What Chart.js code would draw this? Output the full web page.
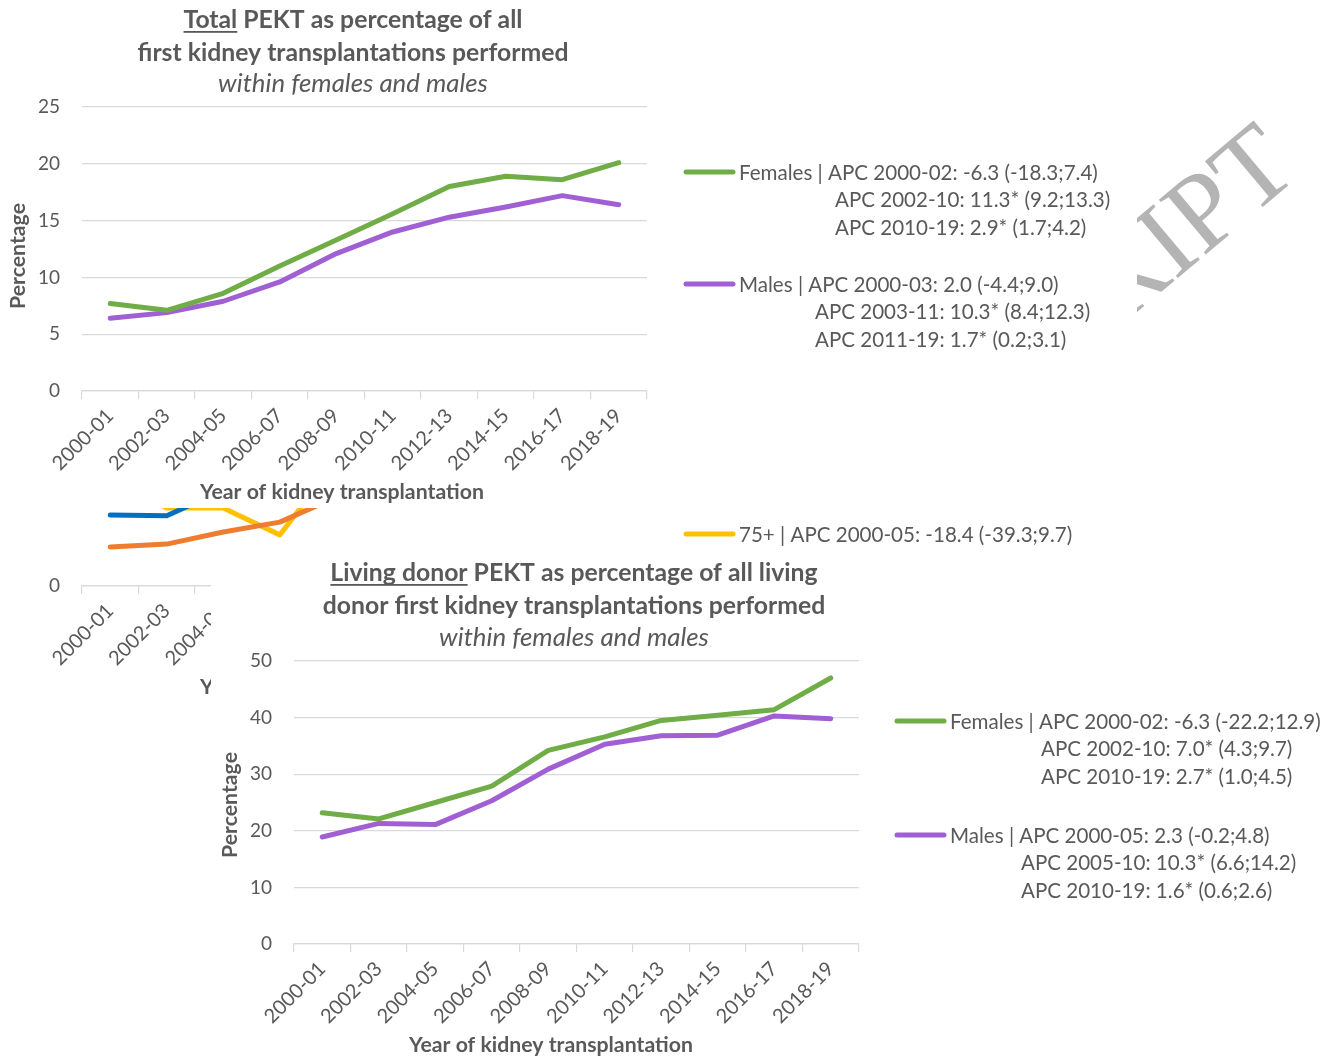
<!DOCTYPE html>
<html lang="en">
<head>
<meta charset="utf-8">
<title>PEKT as percentage of first kidney transplantations</title>
<script src="https://cdn.jsdelivr.net/npm/chart.js@4.4.1/dist/chart.umd.min.js"></script>
<style>
  html, body { margin: 0; padding: 0; background: #ffffff; }
  body { position: relative; width: 1337px; height: 1059px; overflow: hidden; }
  .panel { position: absolute; background: #ffffff; }
  .panel canvas { display: block; }
  #agePanel { left: 0; top: 195px; width: 1137px; height: 508px; z-index: 1; }
  #totalPanel { left: 0; top: 0; width: 1137px; height: 508px; z-index: 2; }
  #livingPanel { left: 211px; top: 553px; width: 1126px; height: 506px; z-index: 3; }
  #stamp {
    position: absolute; left: -158px; top: 104px; width: 1400px;
    text-align: right; white-space: nowrap;
    font-family: "Liberation Serif", "Times New Roman", serif;
    font-size: 110px; line-height: 110px; color: #b4b4b4;
    transform-origin: 100% 0; transform: rotate(-40deg); z-index: 0;
  }
</style>
</head>
<body>
<div id="stamp">ACCEPTED MANUSCRIPT</div>
<div class="panel" id="agePanel"><canvas id="ageChart" width="1137" height="508"></canvas></div>
<div class="panel" id="totalPanel"><canvas id="totalChart" width="1137" height="508"></canvas></div>
<div class="panel" id="livingPanel"><canvas id="livingChart" width="1126" height="506"></canvas></div>
<script>
// ---- data -------------------------------------------------------------
const periods = ['2000-01', '2002-03', '2004-05', '2006-07', '2008-09',
                 '2010-11', '2012-13', '2014-15', '2016-17', '2018-19'];

// Total PEKT (%) within females and males
const totalFemales = [7.7, 7.1, 8.6, 11.0, 13.3, 15.6, 18.0, 18.9, 18.6, 20.1];
const totalMales   = [6.4, 6.9, 7.9, 9.6, 12.1, 14.0, 15.3, 16.2, 17.2, 16.4];

// Living donor PEKT (%) within females and males
const livingFemales = [23.2, 22.1, 25.0, 27.9, 34.2, 36.6, 39.5, 40.4, 41.4, 47.0];
const livingMales   = [18.9, 21.3, 21.1, 25.3, 30.9, 35.3, 36.8, 36.9, 40.3, 39.8];

// Age-group panel (only the lower part of its plot is on show)
const ageGroupA = [10.0, 9.9, 13.5, null, null, null, null, null, null, null];
const ageGroupB = [5.5, 5.9, 7.6, 9.0, 12.5, null, null, null, null, null];
const age75plus = [15.0, 11.0, 11.0, 7.2, 17.5, null, null, null, null, null];

// y-axis ranges
const totalAxis  = { max: 25, step: 5 };
const livingAxis = { max: 50, step: 10 };
const ageAxis    = { max: 40, step: 20 };

// legend texts (APC with 95% CI)
const totalFemaleApc = ['APC 2000-02: -6.3 (-18.3;7.4)', 'APC 2002-10: 11.3* (9.2;13.3)', 'APC 2010-19: 2.9* (1.7;4.2)'];
const totalMaleApc   = ['APC 2000-03: 2.0 (-4.4;9.0)', 'APC 2003-11: 10.3* (8.4;12.3)', 'APC 2011-19: 1.7* (0.2;3.1)'];
const livingFemaleApc = ['APC 2000-02: -6.3 (-22.2;12.9)', 'APC 2002-10: 7.0* (4.3;9.7)', 'APC 2010-19: 2.7* (1.0;4.5)'];
const livingMaleApc   = ['APC 2000-05: 2.3 (-0.2;4.8)', 'APC 2005-10: 10.3* (6.6;14.2)', 'APC 2010-19: 1.6* (0.6;2.6)'];
const age75Apc = ['APC 2000-05: -18.4 (-39.3;9.7)'];

// ---- styling ----------------------------------------------------------
const FONT = 'Lato, "Open Sans", "DejaVu Sans", sans-serif';
const INK = '#595959';
const GRID = '#D9D9D9';
const GREEN = '#70AD47', PURPLE = '#A05FD3', BLUE = '#0070C0', ORANGE = '#ED7D31', GOLD = '#FFC000';

const meter = document.createElement('canvas').getContext('2d');
function fitSize(text, weight, style, width) {
  meter.font = `${style} ${weight} 100px ${FONT}`;
  return 100 * width / meter.measureText(text).width;
}

// headings, axis titles and the line legend, drawn on the chart canvas
function decorPlugin(spec, sz) {
  return {
    id: 'decor',
    afterDraw(chart) {
      const ctx = chart.ctx;
      ctx.save();
      ctx.fillStyle = INK;

      // heading lines
      ctx.textAlign = 'left';
      ctx.textBaseline = 'alphabetic';
      (spec.heading || []).forEach(line => {
        const size = line.italic ? sz.sub : sz.head;
        ctx.font = `${line.italic ? 'italic' : 'normal'} ${line.italic ? 400 : 700} ${size}px ${FONT}`;
        const widths = line.parts.map(p => ctx.measureText(p.text).width);
        let x = spec.headX - widths.reduce((a, b) => a + b, 0) / 2;
        line.parts.forEach((p, i) => {
          ctx.fillText(p.text, x, line.y);
          if (p.underline) ctx.fillRect(x, line.y + 3, widths[i], 1.8);
          x += widths[i];
        });
      });

      // axis titles
      ctx.font = `normal 700 ${sz.axis}px ${FONT}`;
      ctx.textAlign = 'center';
      ctx.textBaseline = 'middle';
      if (spec.xTitle) ctx.fillText(spec.xTitle.text, spec.xTitle.x, spec.xTitle.y);
      if (spec.yTitle) {
        ctx.save();
        ctx.translate(spec.yTitle.x, spec.yTitle.y);
        ctx.rotate(-Math.PI / 2);
        ctx.fillText(spec.yTitle.text, 0, 0);
        ctx.restore();
      }

      // legend
      ctx.textAlign = 'left';
      ctx.font = `normal 400 ${sz.legend}px ${FONT}`;
      (spec.legend || []).forEach(item => {
        ctx.save();
        ctx.strokeStyle = item.color;
        ctx.lineWidth = 5;
        ctx.lineCap = 'round';
        ctx.beginPath();
        ctx.moveTo(spec.legendX - 53, item.y);
        ctx.lineTo(spec.legendX - 6, item.y);
        ctx.stroke();
        ctx.restore();
        ctx.fillText(item.name + ' | ' + item.lines[0], spec.legendX, item.y + 1);
        for (let k = 1; k < item.lines.length; k++) {
          ctx.fillText(item.lines[k], item.subX, item.y + 1 + k * 27.6);
        }
      });
      ctx.restore();
    }
  };
}

function buildChart(canvasId, cfg, sz) {
  const tickFont = { family: FONT, size: sz.tick };
  const xTickFont = { family: FONT, size: sz.tick + 1 };
  return new Chart(document.getElementById(canvasId), {
    type: 'line',
    data: {
      labels: periods,
      datasets: cfg.series.map(s => ({
        label: s.name, data: s.values,
        borderColor: s.color, backgroundColor: s.color,
        borderWidth: 5, pointRadius: 0, pointHoverRadius: 0,
        tension: 0, fill: false, spanGaps: false,
        borderCapStyle: 'round', borderJoinStyle: 'round'
      }))
    },
    options: {
      responsive: false, animation: false, devicePixelRatio: 1,
      layout: { padding: { left: 0, top: cfg.plotTop, right: cfg.padRight, bottom: 0 } },
      plugins: { legend: { display: false }, title: { display: false }, tooltip: { enabled: false } },
      scales: {
        x: {
          offset: true,
          grid: { offset: true, drawOnChartArea: false, drawTicks: true, tickLength: 8, color: GRID, lineWidth: 1.2 },
          border: { display: true, color: GRID, width: 1.2 },
          ticks: { autoSkip: false, maxRotation: 45, minRotation: 45, padding: 5, color: INK, font: xTickFont },
          afterFit(scale) { scale.height = cfg.xHeight; }
        },
        y: {
          min: 0, max: cfg.axis.max,
          ticks: { stepSize: cfg.axis.step, padding: 22, color: INK, font: tickFont },
          grid: { color: GRID, lineWidth: 1.2, drawTicks: false },
          border: { display: false },
          afterFit(scale) { scale.width = cfg.yWidth; }
        }
      }
    },
    plugins: [decorPlugin(cfg.decor, sz)]
  });
}

function build() {
  const sz = {
    head: fitSize('first kidney transplantations performed', 700, 'normal', 431),
    sub: fitSize('within females and males', 400, 'italic', 270),
    axis: fitSize('Year of kidney transplantation', 700, 'normal', 284),
    legend: fitSize('Females | ' + totalFemaleApc[0], 400, 'normal', 359),
    tick: Math.round(fitSize('25', 400, 'normal', 22))
  };

  buildChart('ageChart', {
    series: [
      { name: 'A', values: ageGroupA, color: BLUE },
      { name: 'B', values: ageGroupB, color: ORANGE },
      { name: '75+', values: age75plus, color: GOLD }
    ],
    axis: ageAxis, plotTop: 107, padRight: 490, xHeight: 117, yWidth: 82,
    decor: {
      xTitle: { text: 'Year of kidney transplantation', x: 342, y: 492 },
      legendX: 739,
      legend: [{ color: GOLD, name: '75+', lines: age75Apc, y: 339, subX: 815 }]
    }
  }, sz);

  buildChart('totalChart', {
    series: [
      { name: 'Females', values: totalFemales, color: GREEN },
      { name: 'Males', values: totalMales, color: PURPLE }
    ],
    axis: totalAxis, plotTop: 107, padRight: 490, xHeight: 117, yWidth: 82,
    decor: {
      headX: 353,
      heading: [
        { y: 28, parts: [{ text: 'Total', underline: true }, { text: ' PEKT as percentage of all' }] },
        { y: 61, parts: [{ text: 'first kidney transplantations performed' }] },
        { y: 92, italic: true, parts: [{ text: 'within females and males' }] }
      ],
      xTitle: { text: 'Year of kidney transplantation', x: 342, y: 492 },
      yTitle: { text: 'Percentage', x: 18, y: 256 },
      legendX: 739,
      legend: [
        { color: GREEN, name: 'Females', lines: totalFemaleApc, y: 172, subX: 835 },
        { color: PURPLE, name: 'Males', lines: totalMaleApc, y: 284, subX: 815 }
      ]
    }
  }, sz);

  buildChart('livingChart', {
    series: [
      { name: 'Females', values: livingFemales, color: GREEN },
      { name: 'Males', values: livingMales, color: PURPLE }
    ],
    axis: livingAxis, plotTop: 108, padRight: 478, xHeight: 115, yWidth: 83,
    decor: {
      headX: 363,
      heading: [
        { y: 28, parts: [{ text: 'Living donor', underline: true }, { text: ' PEKT as percentage of all living' }] },
        { y: 61, parts: [{ text: 'donor first kidney transplantations performed' }] },
        { y: 93, italic: true, parts: [{ text: 'within females and males' }] }
      ],
      xTitle: { text: 'Year of kidney transplantation', x: 340, y: 492 },
      yTitle: { text: 'Percentage', x: 19, y: 252 },
      legendX: 739,
      legend: [
        { color: GREEN, name: 'Females', lines: livingFemaleApc, y: 168, subX: 830 },
        { color: PURPLE, name: 'Males', lines: livingMaleApc, y: 282, subX: 810 }
      ]
    }
  }, sz);
}

const faces = ['400 20px Lato', '700 20px Lato', 'italic 400 20px Lato'];
Promise.all(faces.map(f => document.fonts.load(f))).catch(() => null).then(build);
</script>
</body>
</html>
